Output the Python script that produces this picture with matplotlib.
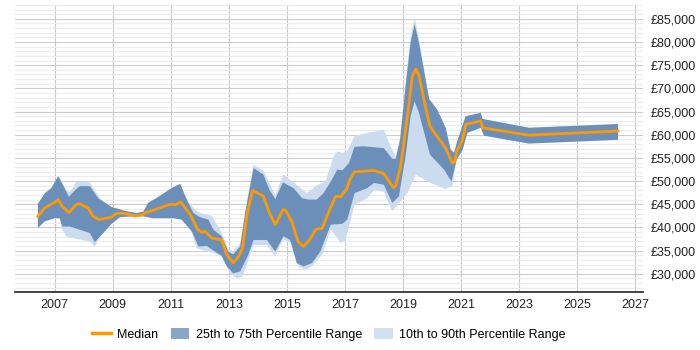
import matplotlib
matplotlib.use('Agg')
from matplotlib import pyplot as plt
from matplotlib.patches import Patch
from matplotlib.lines import Line2D
from matplotlib.ticker import MultipleLocator, FuncFormatter

plt.rcParams['font.family'] = ['Liberation Sans', 'DejaVu Sans']

# median salary
median_x = [2006.42, 2006.65, 2007.0, 2007.12, 2007.26, 2007.49, 2007.75, 2007.86, 2008.15, 2008.32,
            2008.52, 2008.96, 2009.11, 2009.36, 2009.76, 2010.03, 2010.13, 2010.39, 2010.97, 2011.17,
            2011.34, 2011.68, 2011.93, 2012.09, 2012.18, 2012.41, 2012.75, 2012.93, 2013.15, 2013.31,
            2013.47, 2013.62, 2013.82, 2014.19, 2014.40, 2014.60, 2014.86, 2014.94, 2015.17, 2015.38,
            2015.57, 2015.78, 2016.00, 2016.21, 2016.51, 2016.68, 2016.85, 2017.06, 2017.17, 2017.33,
            2018.0, 2018.34, 2018.52, 2018.67, 2018.75, 2018.92, 2019.15, 2019.32, 2019.44, 2019.55,
            2019.72, 2019.93, 2020.47, 2020.70, 2020.78, 2020.85, 2021.05, 2021.16, 2021.68, 2021.74,
            2023.34, 2026.41]
median_y = [42400, 44200, 45400, 46000, 44500, 43200, 45000, 45100, 44200, 42400,
            41700, 42200, 43000, 43100, 42500, 42700, 43200, 43700, 45000, 44900,
            45500, 42700, 39500, 38900, 39200, 37700, 37300, 34100, 32400, 33500,
            35500, 42700, 48000, 46700, 43100, 40600, 43800, 43800, 41300, 37000,
            35900, 37300, 39600, 39800, 44400, 46700, 46600, 48300, 50300, 52000,
            52300, 51600, 49900, 48600, 49000, 53200, 64000, 72500, 74200, 72800,
            67600, 61800, 57100, 53900, 54200, 56400, 58900, 62200, 63000, 61500,
            59900, 60800]

# 75th percentile
p75_x = [2006.42, 2006.65, 2006.88, 2007.12, 2007.26, 2007.49, 2007.69, 2007.86, 2008.21, 2008.50,
         2008.96, 2009.47, 2009.82, 2010.05, 2010.22, 2010.57, 2011.03, 2011.32, 2011.55, 2011.78,
         2012.01, 2012.29, 2012.47, 2012.75, 2012.98, 2013.15, 2013.39, 2013.56, 2013.85, 2014.19,
         2014.40, 2014.60, 2014.86, 2015.23, 2015.52, 2015.75, 2016.03, 2016.26, 2016.51, 2016.74,
         2016.91, 2017.14, 2017.33, 2017.66, 2018.34, 2018.63, 2018.75, 2018.90, 2019.09, 2019.26,
         2019.40, 2019.55, 2019.90, 2020.18, 2020.47, 2020.64, 2020.76, 2020.87, 2021.16, 2021.68,
         2021.74, 2023.34, 2026.41]
p75_y = [45100, 47300, 48500, 51000, 49400, 46600, 48000, 48900, 48900, 46300,
         44400, 43500, 43100, 43400, 45300, 46600, 48500, 49400, 46000, 43100,
         42200, 41700, 39500, 38100, 34800, 34200, 35900, 43100, 52800, 51400,
         48100, 46100, 49700, 48500, 46300, 46000, 46000, 47400, 49900, 52500,
         52300, 53900, 57400, 57500, 57100, 54800, 54800, 58900, 70400, 79800,
         83800, 79800, 67700, 65400, 61500, 56800, 56100, 58600, 64000, 64700,
         63400, 61500, 62300]

# 25th percentile
p25_x = [2006.42, 2006.65, 2007.0, 2007.17, 2007.26, 2007.52, 2007.86, 2008.21, 2008.38, 2008.61,
         2008.96, 2009.24, 2009.70, 2010.05, 2010.39, 2010.74, 2011.09, 2011.37, 2011.72, 2011.95,
         2012.24, 2012.52, 2012.75, 2012.93, 2013.15, 2013.39, 2013.67, 2013.85, 2014.31, 2014.60,
         2014.88, 2015.11, 2015.34, 2015.57, 2015.86, 2016.15, 2016.51, 2016.91, 2017.08, 2017.33,
         2017.77, 2018.0, 2018.34, 2018.63, 2018.86, 2019.09, 2019.26, 2019.40, 2019.55, 2019.93,
         2020.41, 2020.67, 2020.85, 2021.05, 2021.22, 2021.68, 2021.79, 2023.34, 2026.41]
p25_y = [39900, 41300, 42000, 42000, 40200, 40200, 39500, 38800, 36800, 38400,
         40800, 42200, 42400, 42400, 42000, 42000, 42000, 41700, 39200, 35900,
         36000, 34800, 33900, 31600, 30100, 30500, 34100, 37300, 37300, 34800,
         38100, 37300, 32300, 31600, 32300, 34800, 40600, 40800, 41700, 47400,
         48500, 49600, 49200, 45300, 46700, 55400, 64000, 67200, 64700, 55700,
         52500, 49900, 54700, 56700, 60400, 61500, 59800, 58100, 58900]

# 90th percentile
p90_x = [2006.42, 2006.65, 2006.88, 2007.12, 2007.26, 2007.40, 2007.52, 2007.75, 2008.21, 2008.44,
         2008.61, 2008.96, 2009.47, 2009.82, 2010.05, 2010.22, 2010.57, 2011.03, 2011.32, 2011.55,
         2011.78, 2012.01, 2012.41, 2012.70, 2012.98, 2013.15, 2013.39, 2013.56, 2013.85, 2014.19,
         2014.40, 2014.60, 2014.88, 2015.23, 2015.69, 2015.98, 2016.32, 2016.51, 2016.62, 2016.74,
         2016.91, 2017.08, 2017.33, 2017.77, 2018.34, 2018.57, 2018.75, 2018.90, 2019.09, 2019.26,
         2019.40, 2019.55, 2019.90, 2020.18, 2020.47, 2020.64, 2020.76, 2020.87, 2021.16, 2021.68,
         2021.74, 2023.34, 2026.41]
p90_y = [45100, 47300, 48500, 51300, 49700, 48000, 47600, 49900, 49700, 47400,
         45800, 44400, 43500, 43100, 43400, 45300, 46600, 48500, 49400, 46000,
         44200, 43100, 42500, 39500, 35500, 34800, 36500, 43500, 53500, 52300,
         49500, 47000, 51400, 49700, 47400, 48900, 49900, 53200, 55500, 56400,
         56100, 56400, 59700, 60400, 61100, 57500, 55300, 59500, 71500, 81000,
         85200, 80900, 67700, 65400, 61500, 56800, 56100, 58600, 64000, 64700,
         63400, 61500, 62300]

# 10th percentile
p10_x = [2006.42, 2006.65, 2007.0, 2007.17, 2007.26, 2007.40, 2007.75, 2008.21, 2008.38, 2008.61,
         2008.96, 2009.24, 2009.70, 2010.05, 2010.39, 2010.74, 2011.09, 2011.37, 2011.72, 2011.89,
         2012.06, 2012.47, 2012.75, 2013.04, 2013.27, 2013.47, 2013.67, 2013.85, 2014.31, 2014.60,
         2014.88, 2015.23, 2015.40, 2015.63, 2015.86, 2016.21, 2016.51, 2016.74, 2016.85, 2017.02,
         2017.33, 2017.77, 2018.0, 2018.34, 2018.63, 2018.86, 2019.15, 2019.44, 2019.95, 2020.47,
         2020.70, 2020.85, 2021.05, 2021.22, 2021.68, 2021.79, 2023.34, 2026.41]
p10_y = [39900, 41300, 42000, 42000, 39500, 38100, 37500, 37000, 35900, 38400,
         40800, 42200, 42400, 42400, 42000, 42000, 42000, 41700, 39000, 35500,
         35200, 34500, 33800, 30100, 29100, 29400, 33000, 36200, 36200, 33800,
         37500, 36300, 31600, 30900, 31600, 34100, 39500, 37700, 36600, 37300,
         44900, 46300, 48100, 47700, 43500, 45300, 47400, 51400, 49600, 48300,
         48900, 54700, 56700, 60400, 61500, 59800, 58100, 58900]

year_ticks = list(range(2007, 2028, 2))

dark = '#6b8fb8'
light = '#cadcee'
orange = '#ff9900'

fig = plt.figure(figsize=(7, 3.5), dpi=100)
ax = fig.add_axes([0.021, 0.166, 0.898, 0.82])

# bands drawn as polygons: upper edge forward, lower edge back
ax.fill(p90_x + p10_x[::-1], p90_y + p10_y[::-1], color=light, lw=0, zorder=2)
ax.fill(p75_x + p25_x[::-1], p75_y + p25_y[::-1], color=dark, lw=0, zorder=3)
ax.plot(median_x, median_y, color=orange, lw=2, zorder=4)

ax.set_xlim(2005.62, 2027.28)
ax.set_ylim(26100, 88000)
ax.set_xticks(year_ticks)
ax.yaxis.set_major_locator(MultipleLocator(5000))
ax.yaxis.set_minor_locator(MultipleLocator(1000))
ax.yaxis.set_major_formatter(FuncFormatter(lambda v, p: '£{:,.0f}'.format(v)))
ax.yaxis.tick_right()
ax.tick_params(axis='both', which='both', length=0, labelsize=9, colors='#222222')
ax.tick_params(axis='y', pad=5)
ax.tick_params(axis='x', pad=5)

ax.grid(axis='y', which='major', color='#cccccc', lw=0.8, zorder=0)
ax.grid(axis='y', which='minor', color='#ececec', lw=0.8, zorder=0)
ax.grid(axis='x', which='major', color='#c8c8c8', lw=0.8, zorder=0)
ax.set_axisbelow(True)

for s in ['top', 'left', 'right']:
    ax.spines[s].set_visible(False)
ax.spines['bottom'].set_color('#222222')
ax.spines['bottom'].set_linewidth(1.2)

handles = [Line2D([], [], color=orange, lw=2.5),
           Patch(color='#88a6c6', lw=0),
           Patch(color='#d0e0ef', lw=0)]
labels = ['Median', '25th to 75th Percentile Range', '10th to 90th Percentile Range']
fig.legend(handles, labels, loc='center', bbox_to_anchor=(0.47, 0.045), ncol=3, frameon=False,
           fontsize=9, handlelength=1.5, handleheight=1.0, columnspacing=1.0, handletextpad=0.5)

fig.savefig('out.png', dpi=100)
